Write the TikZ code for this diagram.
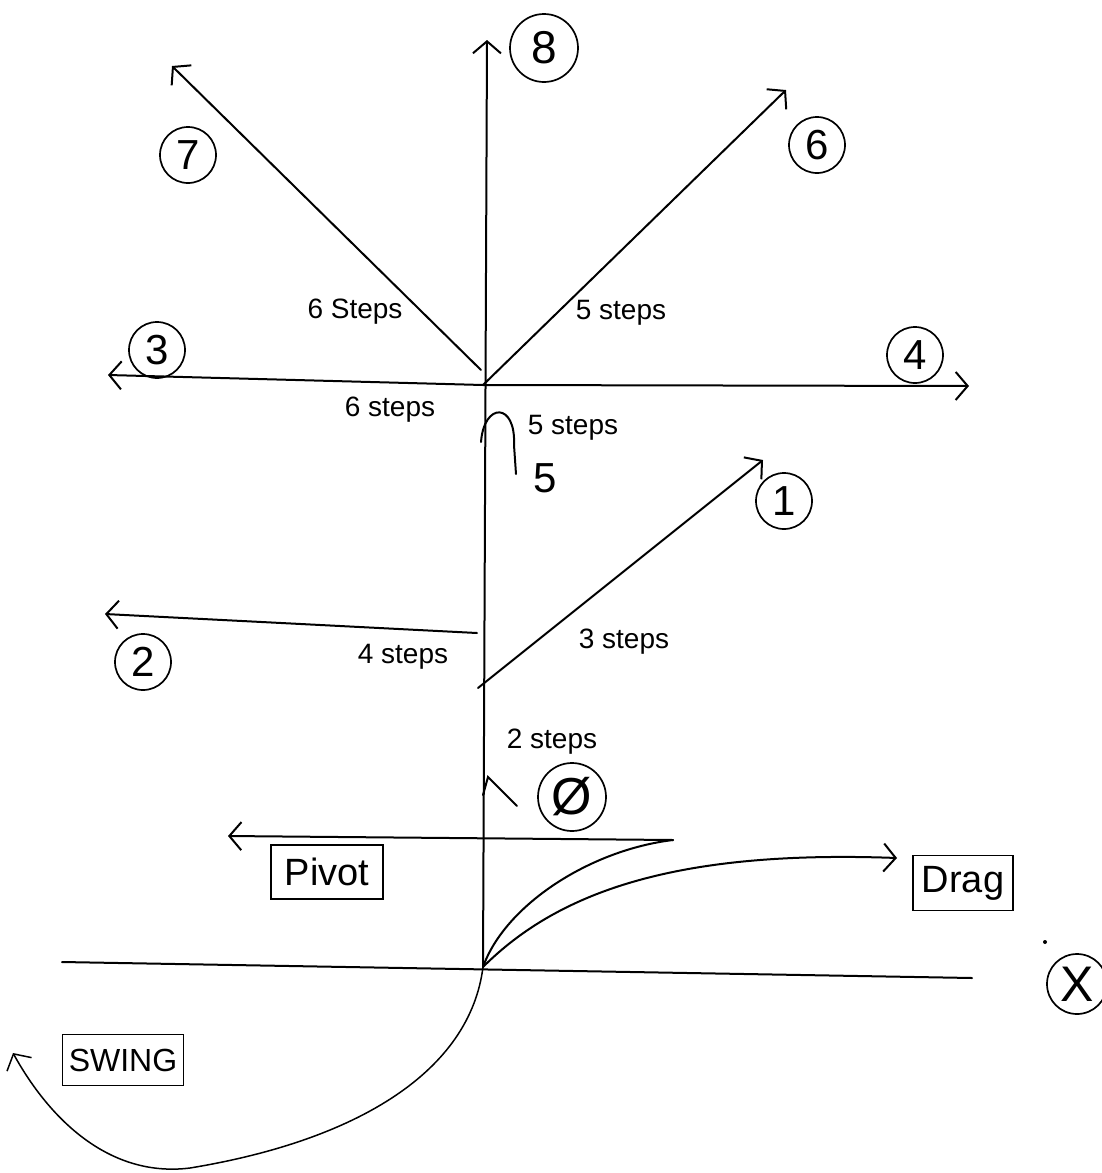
\documentclass[tikz,border=0pt]{standalone}
\usepackage{fontspec}
\setmainfont{Liberation Sans}
\usetikzlibrary{arrows.meta}
\tikzset{
  stroke/.style={line width=2pt, line cap=round},
  move/.style={stroke, -{Straight Barb[length=12pt,width=28pt]}},
  spot/.style={draw, circle, line width=1.7pt, minimum size=56pt, inner sep=0pt, font=\fontsize{42}{42}\selectfont},
  steps/.style={font=\fontsize{28}{28}\selectfont, inner sep=0pt},
  tag/.style={draw, line width=1.7pt, inner sep=0pt, font=\fontsize{38}{38}\selectfont},
}
\begin{document}
\begin{tikzpicture}[x=1pt,y=-1pt]
\useasboundingbox (0,0) rectangle (1101,1173);
\coordinate (B) at (483,967); \coordinate (O) at (483,385); \coordinate (V) at (481,370);
\coordinate (J2) at (477,633); \coordinate (J1) at (478,688); \coordinate (P0) at (673,840);
\coordinate (t8) at (487,40); \coordinate (t7) at (172,66); \coordinate (t6) at (786,90);
\coordinate (t3) at (108,375); \coordinate (t4) at (969,386);
\coordinate (t1) at (763,460); \coordinate (t2) at (105,614);
\coordinate (tP) at (228,836); \coordinate (tD) at (897,858); \coordinate (tS) at (13,1053);
\coordinate (gL) at (62,962); \coordinate (gR) at (972,978);

% main line and legs
\draw[move] (B) -- (t8);
\draw[move] (V) -- (t7); \draw[move] (O) -- (t6);
\draw[move] (O) -- (t3); \draw[move] (O) -- (t4);
\draw[move] (J1) -- (t1); \draw[move] (J2) -- (t2);
\draw[move] (P0) -- (tP);
\draw[stroke] (B) .. controls (505,905) and (590,850) .. (P0);
\draw[move] (B) .. controls (560,890) and (680,850) .. (tD);
\draw[stroke] (gL) -- (gR);
\draw[move, line width=1.5pt] (B) .. controls (470,1070) and (360,1140) .. (190,1168) .. controls (110,1178) and (50,1120) .. (tS);

% hooks
\draw[stroke] (481,442) .. controls (484,402) and (516,402) .. (514,445) -- (516,474);
\draw[stroke] (483,795) -- (488,777) -- (517,806);

% numbered spots
\node[spot, minimum size=68pt, font=\fontsize{46}{46}\selectfont] (n8) at (544,48) {8};
\node[spot] (n7) at (188,155) {7};
\node[spot] (n6) at (817,145) {6};
\node[spot] (n3) at (157,350) {3};
\node[spot] (n4) at (915,355) {4};
\node[spot] (n1) at (784,501) {1};
\node[spot] (n2) at (143,662) {2};
\node[spot, minimum size=68pt, font=\fontsize{52}{52}\selectfont] (n0) at (572,797) {Ø};
\node[spot, minimum size=60pt, font=\fontsize{50}{50}\selectfont] (nX) at (1077,984) {X};
\fill (1045,942) circle (2pt);

% step counts
\node[steps] (s7) at (355,312) {6 Steps};
\node[steps] (s6) at (621,313) {5 steps};
\node[steps] (s3) at (390,410) {6 steps};
\node[steps] (s4) at (573,428) {5 steps};
\node[font=\fontsize{42}{42}\selectfont] (s5) at (545,478) {5};
\node[steps] (s2) at (403,657) {4 steps};
\node[steps] (s1) at (624,642) {3 steps};
\node[steps] (s0) at (552,742) {2 steps};

% tags
\node[tag, minimum width=112pt, minimum height=54pt] (pv) at (327,872) {Pivot};
\node[tag, minimum width=100pt, minimum height=55pt] (dr) at (963,883) {Drag};
\node[tag, minimum width=121pt, minimum height=51pt, font=\fontsize{32}{32}\selectfont] (sw) at (123,1060) {SWING};
\end{tikzpicture}
\end{document}
